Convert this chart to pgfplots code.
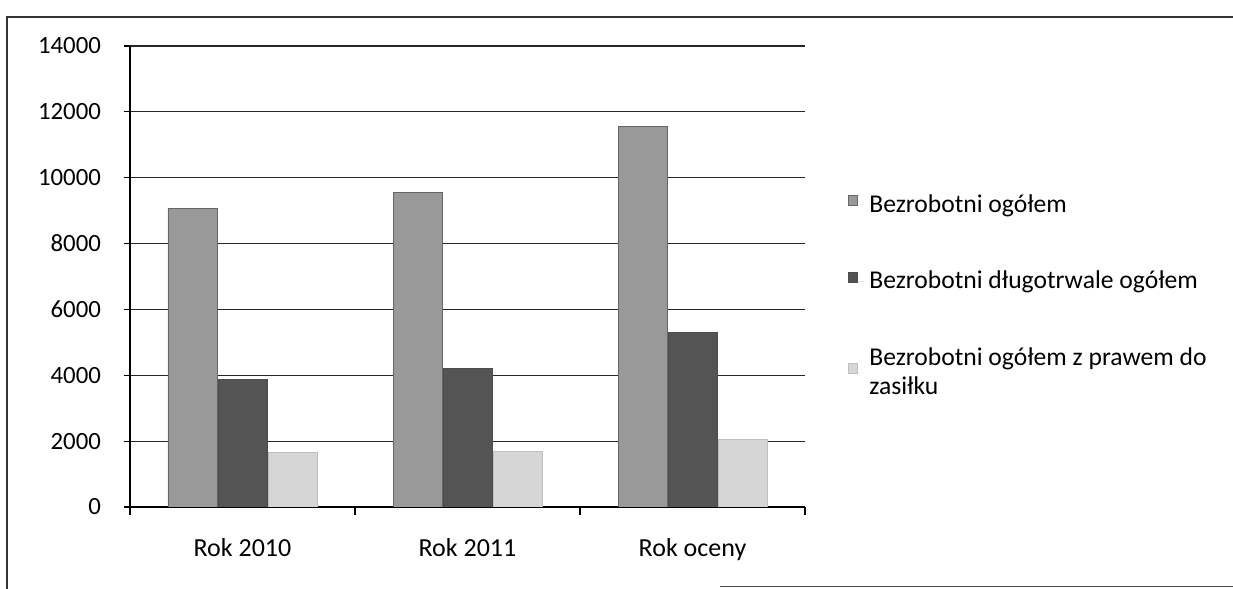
\documentclass[border=0pt]{standalone}
\usepackage{pgfplots}
\pgfplotsset{compat=1.18}
\usepackage{fontspec}
\setmainfont{Carlito}
\definecolor{barA}{gray}{0.60}
\definecolor{barB}{gray}{0.33}
\definecolor{barC}{gray}{0.84}
\begin{document}
\begin{tikzpicture}
\path[use as bounding box] (0,0) rectangle (616.5pt,294.5pt);
% outer frame of the scanned page
\draw[line width=0.7pt, black!80] (3.5pt,0pt) -- (3.5pt,286pt) -- (616.5pt,286pt);
\draw[line width=0.6pt, black!70] (360pt,1.25pt) -- (616.5pt,1.25pt);
\begin{axis}[
  at={(65pt,41pt)}, anchor=south west,
  scale only axis, width=337.5pt, height=230.5pt,
  ymin=0, ymax=14000, ytick={0,2000,...,14000},
  scaled y ticks=false,
  xmin=-0.5, xmax=2.5,
  xtick={0,1,2}, xticklabels={Rok 2010, Rok 2011, Rok oceny},
  major x tick style={draw=none},
  extra x ticks={-0.5,0.5,1.5,2.5}, extra x tick labels={},
  extra x tick style={major x tick style={draw=black, line width=0.6pt}, major tick length=4pt, tick align=outside, grid=none},
  axis x line*=bottom, axis y line*=left,
  axis line style={line width=0.6pt, black},
  ymajorgrids, grid style={line width=0.6pt, black!85},
  y tick style={line width=0.6pt, black},
  tick align=outside, major tick length=3pt,
  /pgf/number format/1000 sep={},
  /pgf/number format/assume math mode=true,
  tick label style={font=\fontsize{13}{15}\selectfont},
  yticklabel style={font=\fontsize{12.4}{15}\selectfont, xshift=-8pt},
  xticklabel style={font=\fontsize{13}{15}\selectfont, yshift=-9pt},
  ybar=0.5pt, bar width=24.5pt,
  legend style={draw=none, at={(1.063,0.688)}, anchor=north west, inner sep=0pt,
    font=\fontsize{12.8}{14.5}\selectfont, row sep=24pt,
    cells={align=left, anchor=west}},
  legend cell align=left,
  legend image code/.code={\fill[#1] (0pt,-0.5pt) rectangle (4.5pt,4.5pt); \path[draw=none] (0pt,0pt) -- (8.5pt,0pt);},
]
\addplot[fill=barA, draw=black!60, line width=0.4pt] coordinates {(0,9080) (1,9550) (2,11560)};
\addplot[fill=barB, draw=black!70, line width=0.4pt] coordinates {(0,3880) (1,4200) (2,5310)};
\addplot[fill=barC, draw=black!25, line width=0.4pt] coordinates {(0,1650) (1,1680) (2,2050)};
\legend{Bezrobotni ogółem, Bezrobotni długotrwale ogółem, {Bezrobotni ogółem z prawem do\\zasiłku}}
\end{axis}
\end{tikzpicture}
\end{document}
